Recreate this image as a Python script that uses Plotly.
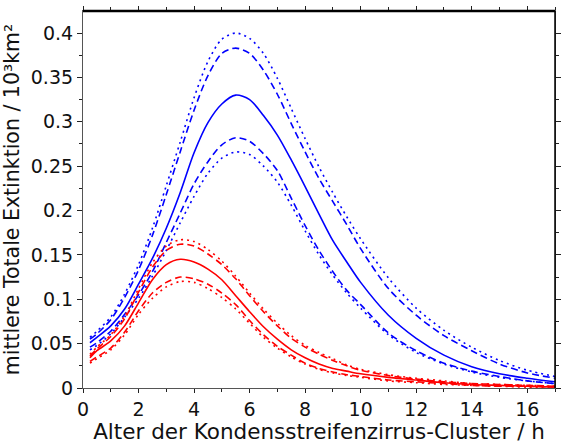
import plotly.graph_objects as go

x_hours = [0.25, 0.5, 1, 1.5, 2, 2.5, 3, 3.5, 4, 4.5, 5, 5.5, 6, 6.5, 7, 7.5, 8, 8.5, 9, 9.5, 10, 11, 12, 13, 14, 15, 16, 17]

blue_solid = [0.051, 0.057, 0.070, 0.089, 0.117, 0.146, 0.180, 0.220, 0.265, 0.299, 0.320, 0.330, 0.325, 0.307, 0.285, 0.257, 0.227, 0.196, 0.166, 0.142, 0.119, 0.082, 0.056, 0.037, 0.024, 0.016, 0.011, 0.007]
blue_dash_up = [0.055, 0.061, 0.077, 0.102, 0.133, 0.172, 0.218, 0.266, 0.313, 0.352, 0.377, 0.383, 0.377, 0.358, 0.331, 0.298, 0.266, 0.236, 0.210, 0.184, 0.157, 0.112, 0.082, 0.059, 0.042, 0.027, 0.017, 0.011]
blue_dot_up = [0.057, 0.064, 0.080, 0.106, 0.139, 0.180, 0.228, 0.277, 0.327, 0.368, 0.393, 0.400, 0.394, 0.377, 0.349, 0.315, 0.281, 0.249, 0.220, 0.193, 0.168, 0.124, 0.090, 0.065, 0.046, 0.031, 0.020, 0.013]
blue_dash_lo = [0.046, 0.051, 0.064, 0.083, 0.105, 0.131, 0.164, 0.197, 0.230, 0.255, 0.274, 0.282, 0.278, 0.264, 0.245, 0.214, 0.183, 0.155, 0.131, 0.110, 0.094, 0.062, 0.042, 0.028, 0.019, 0.013, 0.008, 0.005]
blue_dot_lo = [0.043, 0.048, 0.061, 0.080, 0.101, 0.126, 0.155, 0.186, 0.216, 0.242, 0.259, 0.266, 0.263, 0.250, 0.232, 0.206, 0.177, 0.150, 0.127, 0.107, 0.090, 0.060, 0.040, 0.027, 0.018, 0.012, 0.008, 0.005]

red_solid = [0.034, 0.042, 0.053, 0.070, 0.096, 0.122, 0.139, 0.145, 0.142, 0.134, 0.122, 0.104, 0.086, 0.069, 0.055, 0.043, 0.034, 0.027, 0.022, 0.019, 0.016, 0.012, 0.009, 0.006, 0.004, 0.003, 0.002, 0.001]
red_dash_up = [0.036, 0.044, 0.058, 0.078, 0.108, 0.136, 0.155, 0.162, 0.160, 0.151, 0.139, 0.123, 0.104, 0.086, 0.070, 0.056, 0.046, 0.038, 0.031, 0.025, 0.020, 0.014, 0.010, 0.007, 0.005, 0.004, 0.003, 0.002]
red_dot_up = [0.038, 0.046, 0.060, 0.081, 0.112, 0.141, 0.160, 0.167, 0.165, 0.156, 0.143, 0.126, 0.107, 0.089, 0.073, 0.059, 0.048, 0.040, 0.033, 0.026, 0.021, 0.015, 0.011, 0.008, 0.005, 0.004, 0.003, 0.002]
red_dash_lo = [0.030, 0.035, 0.045, 0.063, 0.087, 0.107, 0.119, 0.125, 0.123, 0.117, 0.107, 0.094, 0.076, 0.060, 0.047, 0.037, 0.028, 0.022, 0.018, 0.015, 0.013, 0.009, 0.007, 0.005, 0.003, 0.002, 0.002, 0.001]
red_dot_lo = [0.028, 0.033, 0.043, 0.060, 0.083, 0.101, 0.114, 0.120, 0.119, 0.112, 0.102, 0.089, 0.073, 0.057, 0.045, 0.035, 0.027, 0.021, 0.017, 0.014, 0.012, 0.008, 0.006, 0.004, 0.003, 0.002, 0.001, 0.001]

y_tick_vals = [0, 0.05, 0.1, 0.15, 0.2, 0.25, 0.3, 0.35, 0.4]
y_tick_text = ["0", "0.05", "0.1", "0.15", "0.2", "0.25", "0.3", "0.35", "0.4"]

BLUE = "#0000ff"
RED = "#ff0000"
DASH = "7px,4px"
DOT = "2px,4px"

series = [
    (blue_dot_up, BLUE, DOT),
    (blue_dash_up, BLUE, DASH),
    (blue_solid, BLUE, "solid"),
    (blue_dash_lo, BLUE, DASH),
    (blue_dot_lo, BLUE, DOT),
    (red_dot_up, RED, DOT),
    (red_dash_up, RED, DASH),
    (red_solid, RED, "solid"),
    (red_dash_lo, RED, DASH),
    (red_dot_lo, RED, DOT),
]

fig = go.Figure()
for ys, col, dash in series:
    fig.add_trace(go.Scatter(
        x=x_hours, y=ys, mode="lines",
        line=dict(color=col, width=1.6, dash=dash, shape="spline", smoothing=0.8),
        showlegend=False, hoverinfo="skip",
    ))

font_family = "DejaVu Sans"
fig.update_layout(
    width=563, height=444,
    margin=dict(l=83, r=2, t=11, b=56),
    paper_bgcolor="white", plot_bgcolor="white",
    font=dict(family=font_family, color="#111", size=19),
    xaxis=dict(
        range=[0, 17], tickmode="linear", tick0=0, dtick=2,
        ticks="outside", ticklen=4, tickcolor="#222", tickwidth=1,
        minor=dict(dtick=1, ticks="outside", ticklen=3, tickcolor="#222"),
        showline=True, linecolor="#555", linewidth=1.2, mirror="ticks",
        showgrid=False, zeroline=False,
        title=dict(text="Alter der Kondensstreifenzirrus-Cluster / h", font=dict(size=21.5), standoff=1),
        tickfont=dict(size=19),
    ),
    yaxis=dict(
        range=[0, 0.4248],
        tickvals=y_tick_vals,
        ticktext=y_tick_text,
        ticks="outside", ticklen=5, tickcolor="#222", tickwidth=1,
        minor=dict(tickmode="linear", tick0=0, dtick=0.025, ticks="outside", ticklen=3, tickcolor="#222"),
        showline=True, linecolor="#555", linewidth=1.2, mirror="ticks",
        showgrid=False, zeroline=False,
        title=dict(text="mittlere Totale Extinktion / 10³km²", font=dict(size=20.5), standoff=6),
        tickfont=dict(size=19),
    ),
    shapes=[
        dict(type="line", xref="paper", yref="paper", x0=0, x1=1, y0=1, y1=1,
             line=dict(color="black", width=2.5)),
        dict(type="line", xref="paper", yref="paper", x0=1, x1=1, y0=0, y1=1,
             line=dict(color="black", width=1.5)),
    ],
)

fig.write_html("out.html")
